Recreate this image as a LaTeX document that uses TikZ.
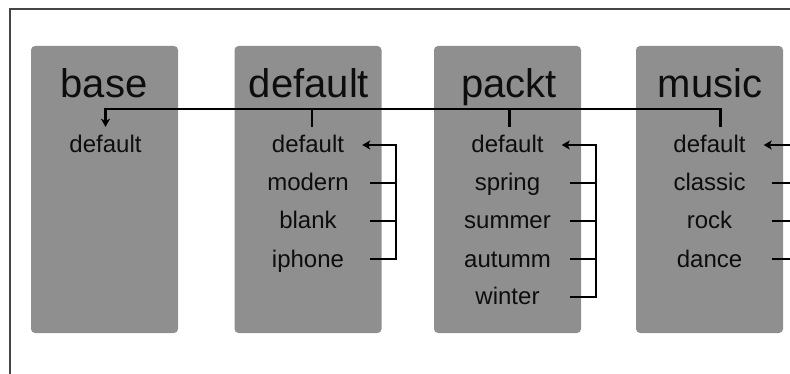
\documentclass[tikz,border=0pt]{standalone}
\usepackage{fontspec}
\setmainfont{Liberation Sans}
\usepackage{tikz}
\usetikzlibrary{arrows.meta}
\definecolor{boxgray}{RGB}{143,143,143}
\definecolor{framegray}{RGB}{70,70,70}

\begin{document}
\begin{tikzpicture}[x=1pt, y=-1pt,
    themebox/.style={fill=boxgray, rounded corners=4pt, minimum width=147pt, minimum height=287pt, inner sep=0pt},
    themename/.style={font=\fontsize{40}{40}\selectfont, anchor=base, inner sep=0pt, text=black!95},
    item/.style={font=\fontsize{24}{24}\selectfont, inner sep=0pt, text height=18pt, text depth=2pt, minimum width=108pt, text=black!95},
    link/.style={line width=2.6pt, black},
    pointer/.style={-{Stealth[length=8pt,width=9pt,inset=2pt]}}]
  \useasboundingbox (0,0) rectangle (790,374);
  \clip (0,0) rectangle (790,374);
  \draw[framegray, line width=2pt] (9.5,400) -- (9.5,9.5) -- (800,9.5);

  % themes
  \node[themebox] (baseBox) at (104.5,189.5) {};
  \node[themebox] (defBox) at (308,189.5) {};
  \node[themebox] (packtBox) at (507.5,189.5) {};
  \node[themebox] (musicBox) at (709.5,189.5) {};

  \node[themename] (baseName) at (104,98) {base};
  \node[themename] (defName) at (309,98) {default};
  \node[themename] (packtName) at (509,98) {packt};
  \node[themename] (musicName) at (710,98) {music};

  % skins
  \node[item] (baseDefault) at (105.5,145) {default};

  \node[item] (defDefault) at (308,145) {default};
  \node[item] (defModern) at (308,183) {modern};
  \node[item] (defBlank) at (308,221) {blank};
  \node[item] (defIphone) at (308,259) {iphone};

  \node[item] (packtDefault) at (507.5,145) {default};
  \node[item] (packtSpring) at (507.5,183) {spring};
  \node[item] (packtSummer) at (507.5,221) {summer};
  \node[item] (packtAutumm) at (507.5,259) {autumm};
  \node[item] (packtWinter) at (507.5,297) {winter};

  \node[item] (musicDefault) at (709.5,145) {default};
  \node[item] (musicClassic) at (709.5,183) {classic};
  \node[item] (musicRock) at (709.5,221) {rock};
  \node[item] (musicDance) at (709.5,259) {dance};

  \coordinate (bus) at (0,109);
  \coordinate (defRail) at (396,0);
  \coordinate (packtRail) at (596,0);
  \coordinate (musicRail) at (798,0);

  % inheritance of the themes
  \draw[link, pointer] ([xshift=11pt,yshift=8pt]musicDefault.north) |- (bus -| baseDefault) -- ([yshift=8pt]baseDefault.north);
  \draw[link] ([xshift=4pt,yshift=8pt]defDefault.north) -- +(0,-18);
  \draw[link] ([xshift=2pt,yshift=8pt]packtDefault.north) -- +(0,-18);

  % inheritance of the skins
  \draw[link, pointer, shorten <=8pt] (defIphone.east) -- (defIphone -| defRail) -- (defDefault -| defRail) -- (defDefault.east);
  \draw[link, shorten <=8pt] (defModern.east) -- (defModern -| defRail);
  \draw[link, shorten <=8pt] (defBlank.east) -- (defBlank -| defRail);

  \draw[link, pointer, shorten <=8pt] (packtWinter.east) -- (packtWinter -| packtRail) -- (packtDefault -| packtRail) -- (packtDefault.east);
  \draw[link, shorten <=8pt] (packtSpring.east) -- (packtSpring -| packtRail);
  \draw[link, shorten <=8pt] (packtSummer.east) -- (packtSummer -| packtRail);
  \draw[link, shorten <=8pt] (packtAutumm.east) -- (packtAutumm -| packtRail);

  \draw[link, pointer, shorten <=8pt] (musicDance.east) -- (musicDance -| musicRail) -- (musicDefault -| musicRail) -- (musicDefault.east);
  \draw[link, shorten <=8pt] (musicClassic.east) -- (musicClassic -| musicRail);
  \draw[link, shorten <=8pt] (musicRock.east) -- (musicRock -| musicRail);
\end{tikzpicture}
\end{document}
